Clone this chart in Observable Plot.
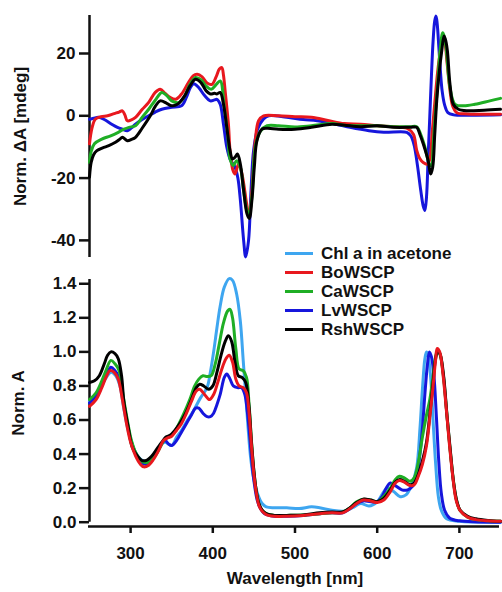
<!DOCTYPE html>
<html>
<head>
<meta charset="utf-8">
<script src="https://cdn.jsdelivr.net/npm/d3@7"></script>
<script src="https://cdn.jsdelivr.net/npm/@observablehq/plot@0.6"></script>
<style>
  body { margin: 0; background: #fff; }
  #root { position: relative; width: 502px; height: 592px; font-family: "Liberation Sans", Arial, sans-serif; font-weight: bold; overflow: hidden; }
  #top { position: absolute; left: 0; top: 0; }
  #bottom { position: absolute; left: 0; top: 265px; }
  #legend { position: absolute; left: 285px; top: 244px; font-size: 17px; line-height: 19px; color: #111; }
  #legend .row { display: flex; align-items: center; height: 19px; white-space: nowrap; }
  #legend .sw { width: 28px; height: 3px; margin-right: 8px; }
</style>
</head>
<body>
<div id="root">
  <div id="top"></div>
  <div id="bottom"></div>
  <div id="legend"></div>
</div>
<script>
// ---------- Series names & colours ----------
const seriesNames = ["Chl a in acetone", "BoWSCP", "CaWSCP", "LvWSCP", "RshWSCP"];
const seriesColors = ["#3ea6f0", "#e8181e", "#1fae25", "#1616dc", "#000000"];

// ---------- Tick values ----------
const wlTicks = [300, 400, 500, 600, 700];
const cdTicks = [-40, -20, 0, 20];
const absTicks = [0, 0.2, 0.4, 0.6, 0.8, 1.0, 1.2, 1.4];

// ---------- CD spectra [wavelength nm, Norm. dA mdeg] ----------
const cdBo = [[250,-9],[253,-4],[257,-1.1],[264,-0.3],[272,0],[280,0.7],[286,1.2],[290,1.6],[293,0.3],[296,-1.6],[301,-1.3],[306,-0.5],[314,2],[322,4.3],[330,7.5],[336,8.5],[342,7.2],[348,5.9],[355,5.3],[362,7],[370,10.5],[376,12.8],[381,13.3],[387,12.5],[393,10.5],[399,10.1],[404,12.5],[408,15],[411,15.5],[413,13],[415,8],[419,-2.7],[421,-11.2],[424.6,-17.6],[427,-18.7],[431.4,-15.5],[435.5,-18.7],[441.6,-29],[444.4,-32.5],[447.6,-24],[451.7,-8],[455.7,-1.6],[461.8,0],[480,0],[500,-0.3],[520,-0.5],[540,-1.5],[560,-2.5],[580,-2.7],[600,-3.2],[620,-3.5],[636,-4],[644,-5.9],[648,-11],[652,-13.8],[656,-15],[661,-15.5],[664,-14],[667,-5],[670,4],[673.5,14],[677,21],[680,24.5],[682.5,23],[685,17],[688.6,8],[692,3],[697,1],[710,0.6],[750,0.5]];
const cdCa = [[250,-15],[252,-11.5],[256,-9],[265,-7.5],[275,-6.5],[285,-5.3],[292,-4.3],[298,-3.7],[306,-3.2],[314,-0.5],[322,2.1],[330,5],[338,7.5],[344,6.5],[350,4.8],[359,4.3],[366,6.5],[372,10],[379,12.3],[386,11.5],[392,9.5],[398,8.5],[404,10],[409,11.2],[414,2.7],[418,-5.9],[421,-13.9],[425,-16],[429,-14.4],[433.5,-16.5],[437.5,-24],[441.6,-30.5],[444,-31.5],[447.6,-26],[451.7,-10],[457.8,-5],[466,-3.2],[480,-3.2],[500,-3.6],[520,-3.2],[545,-2.5],[560,-3],[580,-3.2],[600,-3.2],[620,-3.5],[640,-3.5],[648,-3.5],[653,-6],[658,-10],[663.5,-15.5],[666,-16],[668,-10],[670.4,-0.5],[673.5,10],[676.5,20.8],[679.7,26.7],[681.5,25.5],[683.8,21.9],[688.6,9],[694.7,3.7],[705,3.2],[719,3.7],[737,4.8],[750,5.6]];
const cdLv = [[250,-1.1],[255,-0.8],[261,-0.5],[268,-1.2],[277,-2.7],[284,-3.7],[290,-4.3],[296,-4.8],[301,-3.9],[306,-2.7],[314,-1.2],[322,0],[330,1.2],[338,2.1],[350,2.7],[362,3.2],[368,6],[373,9.2],[377,10.3],[383,9],[390,6.5],[397,4.8],[402,5.1],[405,5.3],[409,3.7],[413,-2.7],[417,-10],[421,-13.9],[427,-16.5],[430.5,-20],[433.5,-27],[437.5,-40],[440,-45.3],[443.5,-40],[446.5,-24],[449.6,-11.2],[454.5,-4.3],[461.8,-1],[468,0],[490,-0.5],[510,-1.2],[527,-1.6],[550,-2.7],[567,-3.7],[590,-4.8],[608,-5.3],[636,-5.3],[641,-6.5],[645,-9.5],[649,-16],[653,-24],[656,-29],[658,-30.4],[660,-26],[662,-13],[664,0],[666,13],[668,24],[670,30.5],[671.6,32],[673,29.5],[675,22],[677,14],[679,8],[682,3.5],[686,1],[693,0.3],[720,0.2],[750,0.3]];
const cdRsh = [[250,-19.7],[252,-15],[255,-12.5],[259,-11.2],[266,-10.3],[273.5,-9.6],[281.6,-8.5],[287,-7.5],[290,-6.9],[296,-8],[301,-7.6],[306,-6.9],[314,-4],[324,0],[330,3],[336,4.8],[344,4],[350,3.2],[357,3.7],[366,6.5],[372,9.5],[379,11.7],[386,10.5],[392,8],[397,7],[402,7.2],[405,7],[409,7.5],[413,3.7],[417,-3.7],[421,-11.2],[424,-13.9],[427,-13.3],[430,-12.3],[433.5,-15.5],[437.5,-24],[441.6,-31.5],[444.4,-33],[447.6,-27],[450.5,-16.5],[453.7,-8],[459.8,-4.3],[466,-4],[480,-4.3],[500,-4.3],[520,-3.7],[545,-2.7],[560,-3],[580,-3.5],[600,-3.2],[620,-3.7],[640,-3.7],[648,-3.7],[652,-6],[656,-9],[662,-14.4],[665,-18.7],[667.5,-16.5],[670,-6],[672.4,4.8],[675.5,14],[678.5,20.8],[681.3,25.6],[683.5,24],[685.4,20.8],[688.6,10],[692.6,3.7],[698.7,2.1],[710,1.6],[730,1.8],[750,2.1]];

// ---------- Absorption spectra [wavelength nm, Norm. A] ----------
const absChl = [[250,0.71],[260,0.76],[268,0.83],[276,0.88],[282,0.86],[287,0.8],[292,0.66],[298,0.52],[305,0.42],[312,0.37],[318,0.355],[325,0.37],[332,0.41],[338,0.46],[342,0.47],[350,0.45],[356,0.5],[362,0.54],[368,0.59],[376,0.65],[385,0.73],[393,0.79],[397,0.88],[401,1.0],[405,1.14],[409,1.27],[414,1.38],[420,1.43],[424,1.42],[429,1.34],[433.5,1.18],[437,0.95],[440,0.75],[443,0.55],[446,0.38],[450,0.25],[455,0.16],[460,0.11],[465,0.09],[475,0.085],[490,0.085],[505,0.08],[520,0.09],[530,0.085],[545,0.07],[560,0.065],[570,0.085],[580,0.11],[590,0.095],[600,0.12],[612,0.2],[620,0.18],[628,0.15],[635,0.16],[642,0.22],[648,0.32],[652,0.55],[655,0.78],[658,0.96],[660,1.0],[662,0.98],[665,0.85],[668.5,0.55],[671,0.35],[674.4,0.15],[678,0.07],[684.5,0.02],[700,0.005],[750,0]];
const absBo = [[250,0.68],[258,0.72],[265,0.79],[270,0.85],[275,0.89],[280,0.88],[285,0.84],[290,0.72],[295,0.58],[300,0.47],[306,0.39],[312,0.34],[316,0.325],[322,0.335],[328,0.37],[334,0.42],[340,0.48],[345,0.495],[350,0.505],[356,0.54],[362,0.58],[368,0.64],[374,0.71],[380,0.77],[384,0.78],[390,0.75],[396,0.72],[401,0.75],[406,0.82],[411,0.9],[416,0.96],[420,0.98],[424,0.94],[428,0.84],[432,0.8],[437,0.79],[441,0.76],[444,0.65],[447,0.45],[450,0.28],[453,0.17],[456,0.1],[460,0.065],[465,0.045],[475,0.035],[490,0.035],[510,0.04],[530,0.05],[545,0.055],[558,0.055],[567,0.08],[575,0.11],[583,0.13],[592,0.125],[600,0.115],[608,0.13],[616,0.18],[622,0.23],[627,0.245],[633,0.235],[640,0.215],[645,0.22],[650,0.27],[655,0.34],[660,0.45],[665,0.66],[668,0.8],[671,0.95],[673,1.02],[676,1.0],[680,0.87],[684.5,0.64],[688,0.45],[692.6,0.24],[696,0.13],[700.7,0.07],[710,0.03],[720,0.015],[735,0.008],[750,0.005]];
const absCa = [[250,0.72],[258,0.76],[265,0.83],[270,0.89],[276,0.95],[281,0.93],[286,0.89],[291,0.74],[296,0.6],[301,0.48],[307,0.4],[313,0.36],[318,0.35],[324,0.36],[330,0.39],[336,0.44],[342,0.49],[347,0.5],[352,0.52],[358,0.57],[365,0.64],[372,0.72],[378,0.8],[383,0.84],[388,0.86],[393,0.855],[398,0.86],[403,0.93],[408,1.05],[413,1.17],[418,1.24],[421,1.25],[424,1.2],[428,1.02],[432,0.9],[437,0.89],[441,0.85],[444,0.7],[447,0.48],[450,0.3],[453,0.18],[456,0.11],[460,0.07],[465,0.05],[475,0.04],[490,0.04],[510,0.042],[530,0.05],[545,0.055],[558,0.06],[567,0.085],[575,0.12],[583,0.135],[592,0.13],[600,0.12],[608,0.15],[616,0.2],[622,0.25],[627,0.27],[633,0.26],[640,0.24],[645,0.26],[650,0.35],[655,0.5],[660,0.63],[664,0.72],[668,0.86],[671,0.97],[673,1.0],[676,0.99],[680,0.88],[684.5,0.65],[688,0.46],[692.6,0.25],[696,0.14],[700.7,0.07],[710,0.03],[720,0.015],[750,0.005]];
const absLv = [[250,0.70],[258,0.74],[265,0.8],[270,0.86],[276,0.91],[281,0.89],[286,0.85],[291,0.72],[296,0.58],[301,0.47],[307,0.39],[313,0.35],[318,0.34],[324,0.36],[330,0.4],[336,0.45],[342,0.48],[346,0.46],[350,0.45],[356,0.48],[362,0.53],[368,0.58],[374,0.63],[379,0.67],[383,0.67],[388,0.64],[393,0.62],[397,0.62],[401,0.64],[405,0.69],[409,0.75],[414,0.85],[417,0.87],[421,0.84],[425,0.8],[430,0.79],[435,0.79],[439,0.75],[442,0.65],[445,0.5],[448,0.33],[451,0.21],[454,0.13],[458,0.08],[463,0.05],[475,0.035],[490,0.035],[510,0.04],[530,0.05],[545,0.055],[558,0.055],[567,0.08],[575,0.11],[583,0.125],[592,0.12],[600,0.12],[606,0.15],[611,0.2],[616,0.23],[622,0.215],[630,0.19],[637,0.19],[643,0.21],[648,0.27],[652,0.4],[655,0.55],[658,0.75],[661,0.92],[663.5,1.0],[666,0.97],[669,0.86],[672,0.62],[675,0.35],[678,0.17],[682,0.07],[688,0.025],[700,0.008],[750,0]];
const absRsh = [[250,0.82],[256,0.83],[262,0.86],[268,0.93],[272,0.98],[276,1.0],[281,0.99],[285,0.96],[289,0.86],[292,0.7],[297,0.56],[302,0.44],[308,0.39],[314,0.362],[320,0.365],[326,0.39],[332,0.43],[338,0.47],[343,0.5],[348,0.51],[354,0.54],[360,0.58],[367,0.64],[374,0.72],[380,0.79],[384,0.81],[389,0.8],[395,0.78],[400,0.8],[405,0.88],[410,0.98],[415,1.06],[419,1.095],[423,1.06],[427,0.94],[431,0.86],[435.5,0.85],[440,0.82],[444,0.68],[447,0.47],[450,0.3],[453,0.18],[456,0.11],[460,0.07],[465,0.05],[475,0.04],[490,0.04],[510,0.042],[530,0.055],[545,0.06],[558,0.06],[567,0.085],[575,0.115],[583,0.135],[592,0.13],[600,0.12],[608,0.14],[616,0.19],[622,0.235],[627,0.25],[633,0.24],[640,0.22],[645,0.23],[650,0.28],[655,0.36],[660,0.47],[665,0.68],[668,0.82],[671,0.96],[674,1.01],[677,0.98],[681,0.85],[685,0.62],[689,0.42],[693,0.23],[697,0.12],[701,0.07],[710,0.035],[720,0.02],[735,0.01],[750,0.005]];

// ---------- Build tables (draw order = bottom to top) ----------
const toRows = (name, data) => data.map(([x, y]) => ({ name, x, y }));
const cdRows = [
  ...toRows("LvWSCP", cdLv),
  ...toRows("BoWSCP", cdBo),
  ...toRows("CaWSCP", cdCa),
  ...toRows("RshWSCP", cdRsh)
];
const absRows = [
  ...toRows("Chl a in acetone", absChl),
  ...toRows("LvWSCP", absLv),
  ...toRows("CaWSCP", absCa),
  ...toRows("RshWSCP", absRsh),
  ...toRows("BoWSCP", absBo)
];

const xDomain = [250, 750];
const cdDomain = [-45.5, 32.2];
const absDomain = [0, 1.425];
const FS = 17;
const fontStyle = { fontFamily: "'Liberation Sans', Arial, sans-serif", fontSize: FS + "px", fontWeight: "bold", color: "#111", background: "transparent", overflow: "visible" };
const colorScale = { domain: seriesNames, range: seriesColors };
const axisW = 2.5;

// ---------- Top panel: CD ----------
const topPlot = Plot.plot({
  width: 502, height: 262,
  marginLeft: 89, marginRight: 2, marginTop: 15, marginBottom: 5,
  x: { domain: xDomain, axis: null },
  y: { domain: cdDomain, axis: null },
  color: colorScale,
  style: fontStyle,
  marks: [
    Plot.ruleX([xDomain[0]], { y1: cdDomain[0], y2: cdDomain[1], stroke: "#111", strokeWidth: axisW }),
    Plot.axisY({ ticks: cdTicks, tickSize: 10, tickPadding: 4, tickFormat: d => String(d), label: null, stroke: "#111", strokeWidth: axisW, fill: "#111", fontSize: FS }),
    Plot.text(["Norm. ΔA [mdeg]"], { frameAnchor: "left", textAnchor: "middle", rotate: -90, dx: -69, fontSize: FS, fontWeight: "bold", fill: "#111" }),
    Plot.line(cdRows, { x: "x", y: "y", z: "name", stroke: "name", strokeWidth: 3, curve: "catmull-rom" })
  ]
});
document.getElementById("top").appendChild(topPlot);

// ---------- Bottom panel: absorption ----------
const bottomPlot = Plot.plot({
  width: 502, height: 327,
  marginLeft: 89, marginRight: 2, marginTop: 14, marginBottom: 66,
  x: { domain: xDomain, axis: null },
  y: { domain: absDomain, axis: null, insetBottom: 4.3 },
  color: colorScale,
  style: fontStyle,
  marks: [
    Plot.ruleX([xDomain[0]], { y1: absDomain[0], y2: absDomain[1], stroke: "#111", strokeWidth: axisW }),
    Plot.ruleY([absDomain[0]], { x1: xDomain[0], x2: xDomain[1], dy: 4.3, dx: -1, stroke: "#111", strokeWidth: axisW }),
    Plot.axisY({ ticks: absTicks, tickSize: 10, tickPadding: 3, tickFormat: d3.format(".1f"), label: null, stroke: "#111", strokeWidth: axisW, fill: "#111", fontSize: FS }),
    Plot.axisX({ ticks: wlTicks, tickSize: 7, tickPadding: 13, tickFormat: d => String(d), label: null, stroke: "#111", strokeWidth: axisW, fill: "#111", fontSize: FS }),
    Plot.text(["Norm. A"], { frameAnchor: "left", textAnchor: "middle", rotate: -90, dx: -71, fontSize: FS, fontWeight: "bold", fill: "#111" }),
    Plot.text(["Wavelength [nm]"], { frameAnchor: "bottom", dy: 57, fontSize: FS, fontWeight: "bold", fill: "#111" }),
    Plot.line(absRows, { x: "x", y: "y", z: "name", stroke: "name", strokeWidth: 3, curve: "catmull-rom" })
  ]
});
document.getElementById("bottom").appendChild(bottomPlot);

// ---------- Legend ----------
const legend = document.getElementById("legend");
seriesNames.forEach((name, i) => {
  const row = document.createElement("div");
  row.className = "row";
  const sw = document.createElement("div");
  sw.className = "sw";
  sw.style.background = seriesColors[i];
  const label = document.createElement("span");
  label.textContent = name;
  row.appendChild(sw);
  row.appendChild(label);
  legend.appendChild(row);
});
</script>
</body>
</html>
